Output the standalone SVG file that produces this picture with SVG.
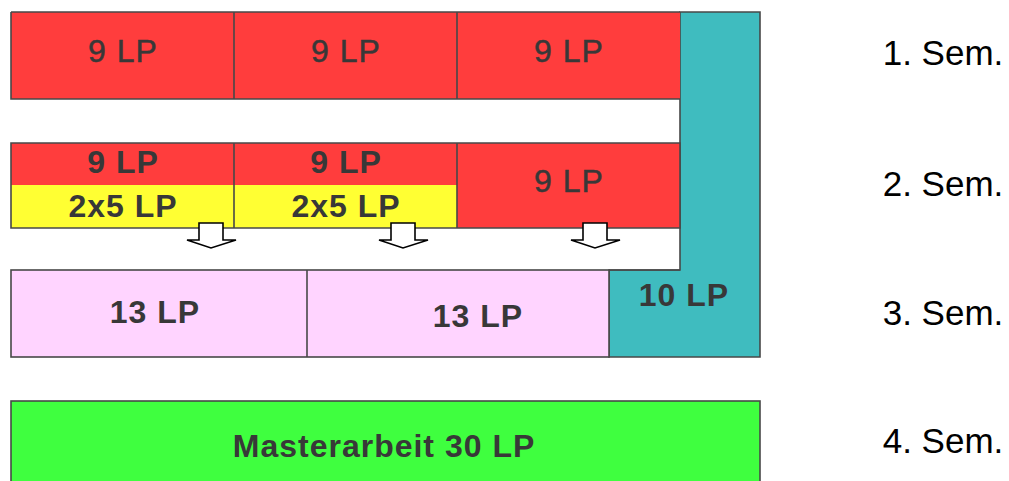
<svg xmlns="http://www.w3.org/2000/svg" width="1009" height="481" viewBox="0 0 1009 481">
<style>
.b{stroke:#484848;stroke-width:1.6}
.t{font-family:"Liberation Sans",Arial,sans-serif;font-size:32px;fill:#383838;text-anchor:middle;letter-spacing:1px}
.tn{font-weight:normal;stroke:#383838;stroke-width:0.5}
.tb{font-weight:bold}
.sem{font-family:"Liberation Sans",Arial,sans-serif;font-size:35px;fill:#000;text-anchor:middle}
.arr{fill:#fff;stroke:#000;stroke-width:1.6;stroke-linejoin:miter}
</style>
<rect width="1009" height="481" fill="#fff"/>
<g id="teal">
<polygon class="b" fill="#3FBCBF" points="680,12 760,12 760,357 609,357 609,270 680,270"/>
<text class="t tb" x="684" y="306">10 LP</text>
</g>
<g id="sem1">
<rect x="11" y="12" width="669" height="87" fill="#FF3D3D"/>
<path class="b" fill="none" d="M11,12 H680 M11,12 V99 H680 M234,12 V99 M457,12 V99"/>
<text class="t tn" x="123" y="62">9 LP</text>
<text class="t tn" x="346" y="62">9 LP</text>
<text class="t tn" x="569" y="62">9 LP</text>
</g>
<g id="sem2">
<rect x="11" y="143" width="669" height="85" fill="#FF3D3D"/>
<rect x="11" y="185" width="446" height="43" fill="#FFFF33"/>
<path class="b" fill="none" d="M11,143 H680 V228 H11 Z M234,143 V228 M457,143 V228"/>
<text class="t tb" x="123" y="173">9 LP</text>
<text class="t tb" x="346" y="173">9 LP</text>
<text class="t tb" x="123" y="217">2x5 LP</text>
<text class="t tb" x="346" y="217">2x5 LP</text>
<text class="t tn" x="569" y="192">9 LP</text>
</g>
<g id="sem3">
<rect class="b" x="11" y="270" width="598" height="87" fill="#FFD4FF"/>
<line class="b" x1="307" y1="270" x2="307" y2="357"/>
<line class="b" x1="609" y1="270" x2="680" y2="270"/>
<text class="t tb" x="155" y="323">13 LP</text>
<text class="t tb" x="478" y="327">13 LP</text>
</g>
<g id="sem4">
<rect class="b" x="11" y="401" width="749" height="90" fill="#3FFF3F"/>
<text class="t tb" x="384" y="457">Masterarbeit 30 LP</text>
</g>
<g id="connectors">
<polygon class="arr" points="199,223 223,223 223,240 236,240 211,248 187,240 199,240"/>
<polygon class="arr" points="391,223 415,223 415,240 428,240 403,248 379,240 391,240"/>
<polygon class="arr" points="583,223 607,223 607,240 620,240 595,248 571,240 583,240"/>
</g>
<g id="labels">
<text class="sem" x="943" y="65">1. Sem.</text>
<text class="sem" x="943" y="196">2. Sem.</text>
<text class="sem" x="943" y="325">3. Sem.</text>
<text class="sem" x="943" y="453">4. Sem.</text>
</g>
</svg>
